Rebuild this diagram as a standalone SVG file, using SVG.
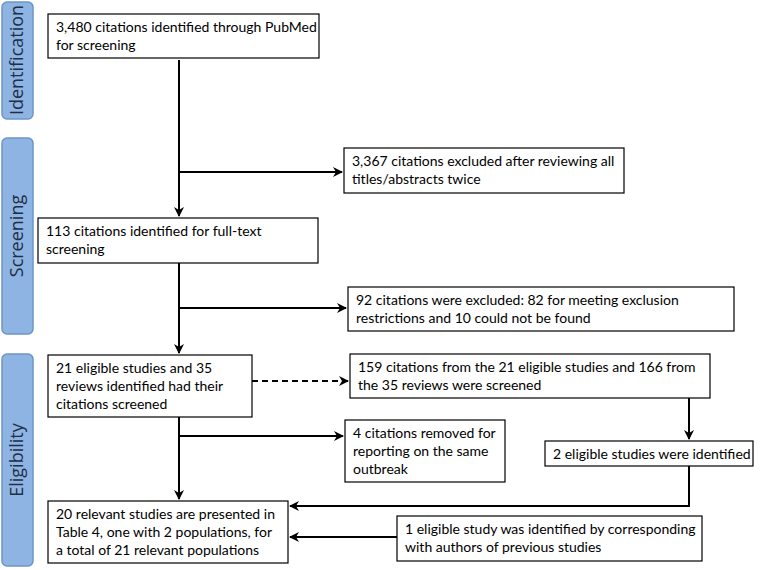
<svg xmlns="http://www.w3.org/2000/svg" width="760" height="570" viewBox="0 0 760 570">
<defs>
<marker id="ah" viewBox="0 0 10 10" refX="9" refY="5" markerWidth="10" markerHeight="10" markerUnits="userSpaceOnUse" orient="auto">
<path d="M0,0 L10,5 L0,10 L3,5 Z" fill="#000"/>
</marker>
<style>
.phase{fill:#8EB4E3;stroke:#6E95C6;stroke-width:1.5}
.ptxt{font-family:"Open Sans","Liberation Sans",sans-serif;font-size:18px;fill:#1F2F45;text-anchor:middle}
.box{fill:#fff;stroke:#000;stroke-width:1.2}
.t{font-family:Lato,"Liberation Sans",sans-serif;font-size:14px;fill:#000}
.ln{fill:none;stroke:#000;stroke-width:2}
.dash{stroke-dasharray:6,4}
</style>
</defs>
<rect width="760" height="570" fill="#fff"/>
<g id="phase-identification"><rect class="phase" x="2" y="2" width="31" height="117" rx="5"/><text class="ptxt" transform="translate(23,60) rotate(-90)">Identification</text></g>
<g id="phase-screening"><rect class="phase" x="2" y="138" width="31" height="196" rx="5"/><text class="ptxt" transform="translate(23,236) rotate(-90)">Screening</text></g>
<g id="phase-eligibility"><rect class="phase" x="2" y="354" width="31" height="212" rx="5"/><text class="ptxt" transform="translate(23,460) rotate(-90)">Eligibility</text></g>
<g id="connectors">
<path class="ln" d="M179,60 V216" marker-end="url(#ah)"/>
<path class="ln" d="M179,172 H342" marker-end="url(#ah)"/>
<path class="ln" d="M179,263 V353" marker-end="url(#ah)"/>
<path class="ln" d="M179,308 H346" marker-end="url(#ah)"/>
<path class="ln dash" d="M252,381 H348" marker-end="url(#ah)"/>
<path class="ln" d="M179,417 V499" marker-end="url(#ah)"/>
<path class="ln" d="M179,436 H343" marker-end="url(#ah)"/>
<path class="ln" d="M689,398 V439" marker-end="url(#ah)"/>
<path class="ln" d="M689,466 V506 H290" marker-end="url(#ah)"/>
<path class="ln" d="M397,537 H290" marker-end="url(#ah)"/>
</g>
<g id="n1"><rect class="box" x="48" y="14" width="271" height="44"/><text class="t" x="56" y="32">3,480 citations identified through PubMed</text><text class="t" x="56" y="50">for screening</text></g>
<g id="n2"><rect class="box" x="344" y="148" width="280" height="45"/><text class="t" x="352" y="166">3,367 citations excluded after reviewing all</text><text class="t" x="352" y="184">titles/abstracts twice</text></g>
<g id="n3"><rect class="box" x="38" y="218" width="280" height="45"/><text class="t" x="46" y="236">113 citations identified for full-text</text><text class="t" x="46" y="254">screening</text></g>
<g id="n4"><rect class="box" x="348" y="287" width="386" height="44"/><text class="t" x="356" y="305">92 citations were excluded: 82 for meeting exclusion</text><text class="t" x="356" y="323">restrictions and 10 could not be found</text></g>
<g id="n5"><rect class="box" x="48" y="355" width="204" height="62"/><text class="t" x="56" y="373">21 eligible studies and 35</text><text class="t" x="56" y="391">reviews identified had their</text><text class="t" x="56" y="409">citations screened</text></g>
<g id="n6"><rect class="box" x="350" y="354" width="360" height="44"/><text class="t" x="358" y="372">159 citations from the 21 eligible studies and 166 from</text><text class="t" x="358" y="390">the 35 reviews were screened</text></g>
<g id="n7"><rect class="box" x="345" y="420" width="160" height="62"/><text class="t" x="353" y="438">4 citations removed for</text><text class="t" x="353" y="456">reporting on the same</text><text class="t" x="353" y="474">outbreak</text></g>
<g id="n8"><rect class="box" x="545" y="441" width="208" height="25"/><text class="t" x="553" y="459">2 eligible studies were identified</text></g>
<g id="n9"><rect class="box" x="48" y="501" width="240" height="62"/><text class="t" x="56" y="519">20 relevant studies are presented in</text><text class="t" x="56" y="537">Table 4, one with 2 populations, for</text><text class="t" x="56" y="555">a total of 21 relevant populations</text></g>
<g id="n10"><rect class="box" x="397" y="516" width="305" height="45"/><text class="t" x="405" y="534">1 eligible study was identified by corresponding</text><text class="t" x="405" y="552">with authors of previous studies</text></g>
</svg>
